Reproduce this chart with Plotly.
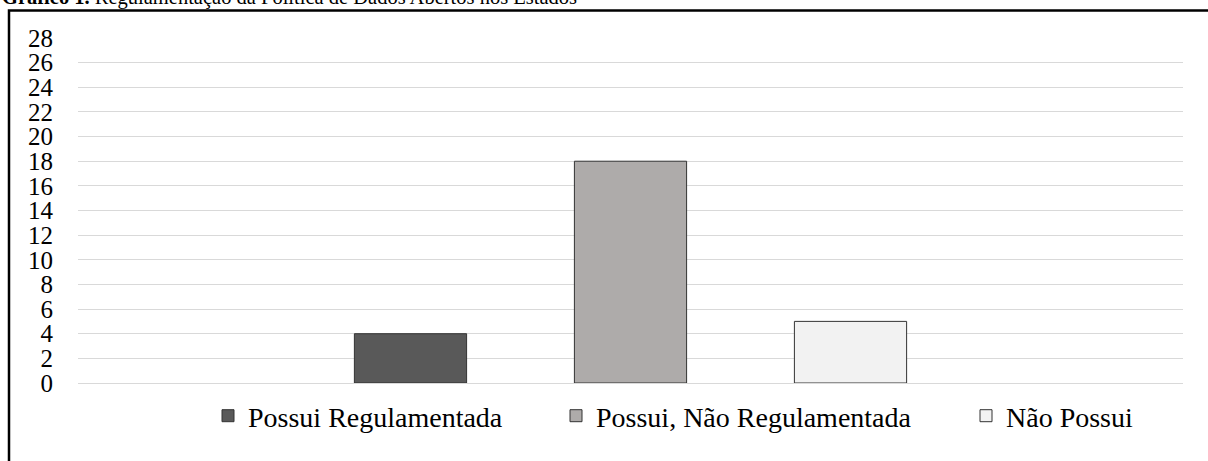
import plotly.graph_objects as go

category = ["Estados"]
series_names = ["Possui Regulamentada", "Possui, Não Regulamentada", "Não Possui"]
series_values = [4, 18, 5]
series_colors = ["#595959", "#AEABAA", "#F2F2F2"]
y_ticks = list(range(0, 29, 2))
title_bold = "Gráfico 1."
title_rest = " Regulamentação da Política de Dados Abertos nos Estados"

FONT = "Liberation Serif, Times New Roman, serif"

fig = go.Figure()
legend_ids = ["legend", "legend2", "legend3"]
for name, val, col, lg in zip(series_names, series_values, series_colors, legend_ids):
    fig.add_trace(go.Bar(
        x=category, y=[val], name=name,
        marker=dict(color=col, line=dict(color="#333333", width=1)),
        legend=lg,
    ))

W, H = 1208, 461
ml, mr, mt, mb = 78, 25, 38, 78
pw = W - ml - mr
ph = H - mt - mb

def px_x(p):
    return (p - ml) / pw

def px_y(p):
    return (H - mb - p) / ph

leg_common = dict(orientation="h", font=dict(family=FONT, size=28, color="#000"),
                  bgcolor="rgba(0,0,0,0)", xanchor="left", yanchor="middle",
                  itemwidth=30, tracegroupgap=0)
legend_x_px = [208, 556, 966]
leg_layout = {}
for lg, xp in zip(legend_ids, legend_x_px):
    leg_layout[lg] = dict(leg_common, x=px_x(xp), y=px_y(416))

fig.update_layout(
    width=W, height=H,
    margin=dict(l=ml, r=mr, t=mt, b=mb),
    paper_bgcolor="white", plot_bgcolor="white",
    barmode="group", bargap=0.4027, bargroupgap=0.49,
    showlegend=True,
    font=dict(family=FONT, color="#000"),
    xaxis=dict(showticklabels=False, showgrid=False, zeroline=False, showline=False, ticks=""),
    yaxis=dict(range=[0, 28], tickvals=y_ticks, ticktext=[str(v) for v in y_ticks],
               showgrid=True, gridcolor="#D9D9D9", gridwidth=1,
               zeroline=True, zerolinecolor="#D9D9D9", zerolinewidth=1,
               showline=False, ticks="", ticklabelstandoff=24,
               tickfont=dict(family=FONT, size=25, color="#000")),
    **leg_layout,
)

fig.add_shape(type="rect", xref="paper", yref="paper",
              x0=px_x(9), x1=px_x(1230), y0=px_y(480), y1=px_y(10.5),
              line=dict(color="black", width=2.5), fillcolor="rgba(0,0,0,0)", layer="above")

fig.add_annotation(text="<b>" + title_bold + "</b>" + title_rest,
                   xref="paper", yref="paper", x=px_x(0), y=px_y(11),
                   xanchor="left", yanchor="bottom", showarrow=False,
                   font=dict(family=FONT, size=20.5, color="#000"))

fig.write_html("out.html", config={"displayModeBar": False},
               post_script="document.body.style.margin='0';document.body.style.overflow='hidden';")
